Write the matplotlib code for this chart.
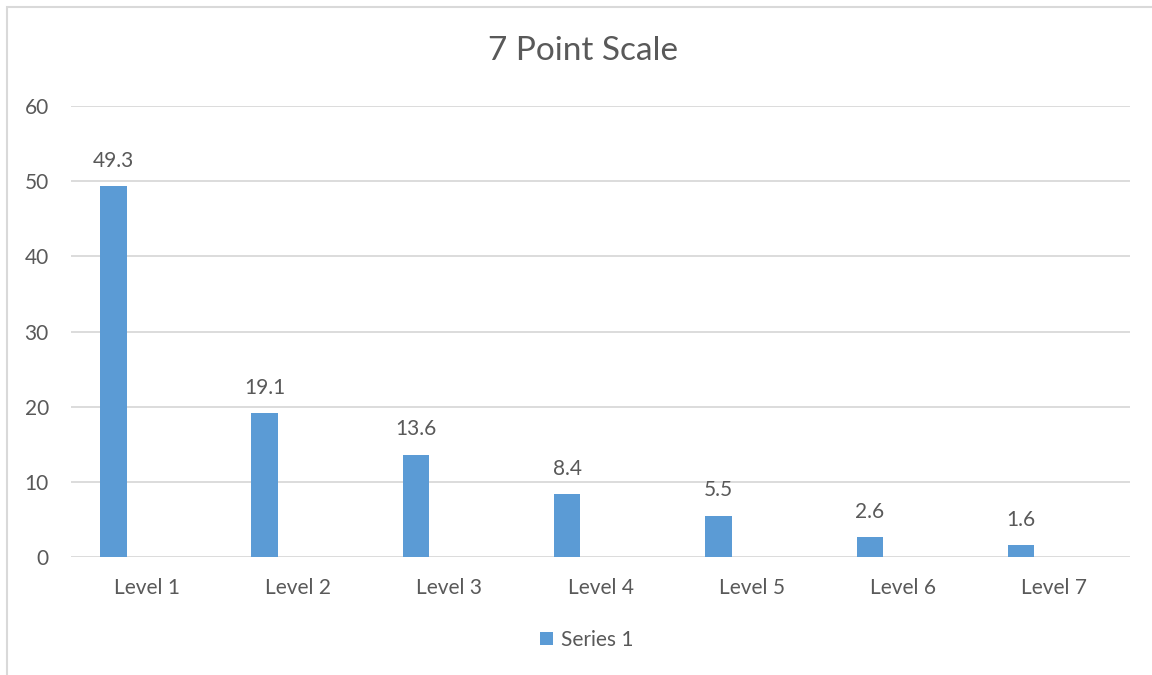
import matplotlib.pyplot as plt
from matplotlib.patches import Rectangle
import numpy as np

# chart data
categories = ["Level 1", "Level 2", "Level 3", "Level 4", "Level 5", "Level 6", "Level 7"]
values = [49.3, 19.1, 13.6, 8.4, 5.5, 2.6, 1.6]
series_name = "Series 1"
y_ticks = [0, 10, 20, 30, 40, 50, 60]

bar_color = "#5B9BD5"
text_color = "#595959"
grid_color = "#D9D9D9"

plt.rcParams['font.family'] = ['Lato', 'DejaVu Sans']

fig = plt.figure(figsize=(11.52, 6.75), dpi=100)
ax = fig.add_axes([71 / 1152, 1 - 557 / 675, (1130 - 71) / 1152, (557 - 106) / 675])

# outer chart border (only top and left visible in the crop)
fig.patches.append(Rectangle((7 / 1152, -0.1), 1.2, 1 - 7 / 675 + 0.1,
                             transform=fig.transFigure, fill=False,
                             edgecolor=grid_color, linewidth=1.5))

x = np.arange(len(categories))
offset = -0.22
bars = ax.bar(x + offset, values, width=0.175, color=bar_color, label=series_name, zorder=3)

for xi, v in zip(x, values):
    ax.annotate(f"{v}", (xi + offset, v), xytext=(0, 11), textcoords="offset points",
                ha="center", va="bottom", fontsize=15, color=text_color)

ax.set_xlim(-0.5, len(categories) - 0.5)
ax.set_ylim(0, 60)
ax.set_yticks(y_ticks)
ax.set_xticks(x)
ax.set_xticklabels(categories)
ax.tick_params(axis="both", length=0, labelsize=15, labelcolor=text_color)
ax.tick_params(axis="y", pad=16)
ax.tick_params(axis="x", pad=15)

ax.grid(axis="y", color=grid_color, linewidth=1.3, zorder=0)
for s in ax.spines.values():
    s.set_visible(False)

fig.text(583 / 1152, 1 - 51 / 675, "7 Point Scale", ha="center", va="center",
         fontsize=24, color=text_color)

fig.legend(handles=[bars], labels=[series_name], loc="center",
           bbox_to_anchor=(587 / 1152, 1 - 640 / 675), frameon=False,
           fontsize=15, labelcolor=text_color, handlelength=0.6, handleheight=0.6,
           handletextpad=0.4)

fig.savefig("out.png", dpi=100)
